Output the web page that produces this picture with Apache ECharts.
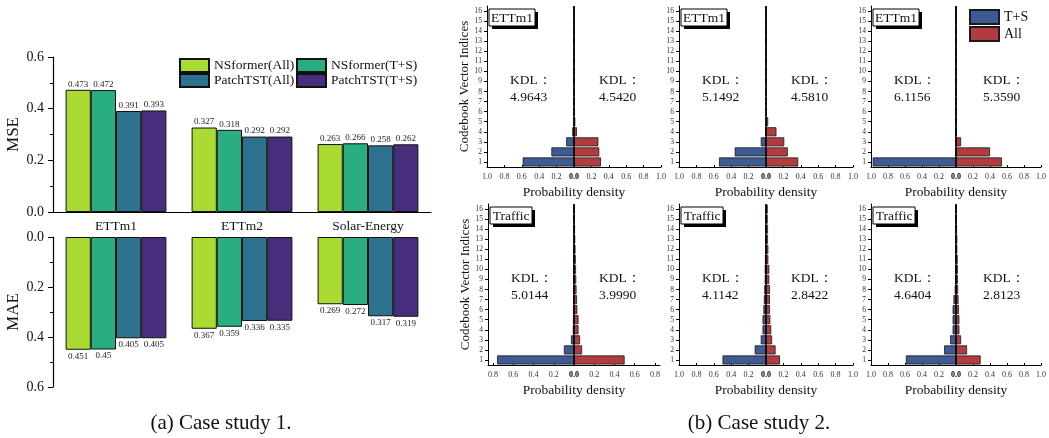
<!DOCTYPE html>
<html><head><meta charset="utf-8">
<script src="https://cdn.jsdelivr.net/npm/echarts@6/dist/echarts.min.js"></script>
<style>html,body{margin:0;padding:0;background:#fff}#c{width:1049px;height:438px}</style>
</head><body><div id="c"></div>
<script>
// ---------- Case study 1 data ----------
const categories = ['ETTm1', 'ETTm2', 'Solar-Energy'];
const seriesNames = ['NSformer(All)', 'NSformer(T+S)', 'PatchTST(All)', 'PatchTST(T+S)'];
const mseNsAll = [0.473, 0.327, 0.263];
const mseNsTS  = [0.472, 0.318, 0.266];
const msePtAll = [0.391, 0.292, 0.258];
const msePtTS  = [0.393, 0.292, 0.262];
const maeNsAll = [0.451, 0.367, 0.269];
const maeNsTS  = [0.45, 0.359, 0.272];
const maePtAll = [0.405, 0.336, 0.317];
const maePtTS  = [0.405, 0.335, 0.319];

// ---------- Case study 2 data ----------
const indices = ['1','2','3','4','5','6','7','8','9','10','11','12','13','14','15','16'];
const p1TS  = [0.59, 0.26, 0.09, 0.02, 0.006, 0.004, 0.002, 0, 0, 0, 0, 0, 0, 0, 0, 0];
const p1All = [0.31, 0.29, 0.28, 0.034, 0.015, 0.01, 0.004, 0.002, 0, 0, 0, 0, 0, 0, 0, 0];
const p2TS  = [0.54, 0.36, 0.06, 0.01, 0.004, 0, 0, 0, 0, 0, 0, 0, 0, 0, 0, 0];
const p2All = [0.37, 0.25, 0.21, 0.12, 0.025, 0.008, 0.005, 0.004, 0.003, 0, 0, 0, 0, 0, 0, 0];
const p3TS  = [0.98, 0.01, 0.005, 0.003, 0, 0, 0, 0, 0, 0, 0, 0, 0, 0, 0, 0];
const p3All = [0.54, 0.40, 0.06, 0.005, 0, 0, 0, 0, 0, 0, 0, 0, 0, 0, 0, 0];
const p4TS  = [0.76, 0.10, 0.03, 0.012, 0.01, 0.01, 0.009, 0.008, 0.008, 0.007, 0.006, 0.006, 0.005, 0.005, 0.004, 0.004];
const p4All = [0.50, 0.08, 0.06, 0.045, 0.045, 0.033, 0.03, 0.025, 0.022, 0.02, 0.018, 0.015, 0.012, 0.01, 0.008, 0.006];
const p5TS  = [0.50, 0.13, 0.06, 0.04, 0.04, 0.03, 0.025, 0.02, 0.015, 0.015, 0.012, 0.01, 0.01, 0.008, 0.007, 0.006];
const p5All = [0.16, 0.11, 0.07, 0.06, 0.05, 0.045, 0.045, 0.045, 0.038, 0.038, 0.027, 0.027, 0.023, 0.023, 0.02, 0.02];
const p6TS  = [0.59, 0.14, 0.07, 0.04, 0.04, 0.04, 0.03, 0.015, 0.01, 0.008, 0.008, 0.007, 0.006, 0.006, 0.005, 0.005];
const p6All = [0.29, 0.13, 0.06, 0.04, 0.04, 0.035, 0.03, 0.025, 0.022, 0.022, 0.02, 0.015, 0.015, 0.012, 0.01, 0.008];
const datasetNames = ['ETTm1', 'ETTm1', 'ETTm1', 'Traffic', 'Traffic', 'Traffic'];
const kdlTS  = ['4.9643', '5.1492', '6.1156', '5.0144', '4.1142', '4.6404'];
const kdlAll = ['4.5420', '4.5810', '5.3590', '3.9990', '2.8422', '2.8123'];
const ticks10 = [-1, -0.8, -0.6, -0.4, -0.2, 0, 0.2, 0.4, 0.6, 0.8, 1];
const ticks08 = [-0.8, -0.6, -0.4, -0.2, 0, 0.2, 0.4, 0.6, 0.8];

const FONT = '"Liberation Serif", "Times New Roman", serif';
const barColors = ['#a9db32', '#28ae80', '#2c728e', '#472d7b'];
const BLUE = '#3d5b92', RED = '#b23c3d';

const chart = echarts.init(document.getElementById('c'), null, {renderer: 'canvas'});

const grids = [], xAxes = [], yAxes = [], series = [], legends = [], graphics = [];

// ----- left panel -----
grids.push({left: 53, top: 57, width: 378, height: 155});
grids.push({left: 53, top: 237, width: 378, height: 150});
xAxes.push({type: 'category', gridIndex: 0, data: categories,
  axisLine: {lineStyle: {color: '#000', width: 1.2}}, axisTick: {show: false},
  axisLabel: {fontFamily: FONT, fontSize: 13.5, color: '#111', margin: 7}});
xAxes.push({type: 'category', gridIndex: 1, data: categories, position: 'top',
  axisLine: {show: false}, axisTick: {show: false}, axisLabel: {show: false}});
const leftY = (gi, name, inverse) => ({
  type: 'value', gridIndex: gi, min: 0, max: 0.6, interval: 0.2, inverse: inverse,
  name: name, nameLocation: 'middle', nameGap: 31,
  nameTextStyle: {fontFamily: FONT, fontSize: 17, color: '#111'},
  axisLine: {show: true, lineStyle: {color: '#000', width: 1.2}},
  axisTick: {show: true, inside: false, length: 5, lineStyle: {color: '#000'}},
  minorTick: {show: true, splitNumber: 2, length: 3, lineStyle: {color: '#000'}},
  splitLine: {show: false},
  axisLabel: {fontFamily: FONT, fontSize: 14, color: '#111', margin: 9,
    formatter: v => v.toFixed(1)}
});
yAxes.push(leftY(0, 'MSE', false));
yAxes.push(leftY(1, 'MAE', true));

const mseSets = [mseNsAll, mseNsTS, msePtAll, msePtTS];
const maeSets = [maeNsAll, maeNsTS, maePtAll, maePtTS];
seriesNames.forEach((n, i) => {
  series.push({type: 'bar', name: n, xAxisIndex: 0, yAxisIndex: 0, data: mseSets[i],
    barGap: '0%', barCategoryGap: '20%',
    itemStyle: {color: barColors[i], borderColor: '#111', borderWidth: 1},
    label: {show: true, position: 'top', distance: 1, fontFamily: FONT, fontSize: 9, color: '#222'}});
  series.push({type: 'bar', name: n, xAxisIndex: 1, yAxisIndex: 1, data: maeSets[i],
    barGap: '0%', barCategoryGap: '20%',
    itemStyle: {color: barColors[i], borderColor: '#111', borderWidth: 1},
    label: {show: true, position: 'bottom', distance: 2, fontFamily: FONT, fontSize: 9, color: '#222'}});
});
const legPos = [[179, 58], [296, 58], [179, 73], [296, 73]];
seriesNames.forEach((n, i) => {
  legends.push({data: [n], left: legPos[i][0], top: legPos[i][1], padding: 0,
    itemWidth: 29, itemHeight: 13, itemGap: 0, icon: 'rect', selectedMode: false,
    textStyle: {fontFamily: FONT, fontSize: 13.5, color: '#111'}});
});

// ----- right panels -----
const panels = [
  {x: 487, y: 6,   w: 174, min: -1,    max: 1,    ticks: ticks10, ts: p1TS, all: p1All, yName: true},
  {x: 679, y: 6,   w: 174, min: -1,    max: 1,    ticks: ticks10, ts: p2TS, all: p2All, yName: false},
  {x: 871, y: 6,   w: 174, min: -1,    max: 1,    ticks: ticks10, ts: p3TS, all: p3All, yName: false},
  {x: 488, y: 204, w: 172, min: -0.85, max: 0.85, ticks: ticks08, ts: p4TS, all: p4All, yName: true},
  {x: 679, y: 204, w: 174, min: -1,    max: 1,    ticks: ticks10, ts: p5TS, all: p5All, yName: false},
  {x: 871, y: 204, w: 174, min: -1,    max: 1,    ticks: ticks10, ts: p6TS, all: p6All, yName: false}
];
const PH = 161;
panels.forEach((p, k) => {
  const gi = grids.length;
  grids.push({left: p.x, top: p.y, width: p.w, height: PH});
  xAxes.push({type: 'value', gridIndex: gi, min: p.min, max: p.max,
    name: 'Probability density', nameLocation: 'middle', nameGap: 18,
    nameTextStyle: {fontFamily: FONT, fontSize: 13.5, color: '#111'},
    axisLine: {show: true, onZero: false, lineStyle: {color: '#000', width: 1}},
    axisTick: {show: true, inside: true, length: 2, customValues: p.ticks, lineStyle: {color: '#000'}},
    splitLine: {show: false},
    axisLabel: {fontFamily: FONT, fontSize: 8, color: '#333', margin: 6, customValues: p.ticks,
      showMinLabel: true, showMaxLabel: true,
      formatter: v => Math.abs(v) < 1e-9 ? '{b|0.0}' : Math.abs(v).toFixed(1),
      rich: {b: {fontFamily: FONT, fontSize: 8, fontWeight: 'bold', color: '#000'}}}});
  yAxes.push({type: 'category', gridIndex: gi, data: indices,
    name: p.yName ? 'Codebook Vector Indices' : '', nameLocation: 'middle', nameGap: 16,
    nameTextStyle: {fontFamily: FONT, fontSize: 13, color: '#111'},
    axisLine: {show: true, onZero: false, lineStyle: {color: '#000', width: 1}},
    axisTick: {show: true, inside: false, length: 3, alignWithLabel: true, lineStyle: {color: '#000'}},
    axisLabel: {fontFamily: FONT, fontSize: 7.5, color: '#333', margin: 5, interval: 0}});
  series.push({type: 'bar', name: 'T+S', xAxisIndex: gi, yAxisIndex: gi,
    data: p.ts.map(v => -v), barGap: '-100%', barCategoryGap: '10%',
    itemStyle: {color: BLUE, borderColor: '#1a1a1a', borderWidth: 0.8}});
  series.push({type: 'bar', name: 'All', xAxisIndex: gi, yAxisIndex: gi,
    data: p.all, barGap: '-100%', barCategoryGap: '10%',
    itemStyle: {color: RED, borderColor: '#1a1a1a', borderWidth: 0.8},
    markLine: {silent: true, symbol: ['none', 'none'], label: {show: false},
      lineStyle: {color: '#000', width: 1.5, type: 'solid'}, data: [{xAxis: 0}]}});
  // dataset box with shadow
  const name = datasetNames[k];
  const bw = name === 'Traffic' ? 42 : 46, bh = 17;
  const bx = p.x + 2, by = p.y + 3;
  graphics.push({type: 'rect', shape: {x: bx + 3, y: by + 3, width: bw, height: bh}, style: {fill: '#000'}, z: 100});
  graphics.push({type: 'rect', shape: {x: bx, y: by, width: bw, height: bh}, style: {fill: '#fff', stroke: '#000', lineWidth: 1}, z: 101});
  graphics.push({type: 'text', x: bx + bw / 2, y: by + bh / 2 + 0.5, z: 102,
    style: {text: name, font: '13.5px ' + FONT, fill: '#111', textAlign: 'center', textVerticalAlign: 'middle', align: 'center', verticalAlign: 'middle'}});
  // KDL texts
  const zeroX = p.x + p.w * (0 - p.min) / (p.max - p.min);
  const lx = p.x + 23, rx = zeroX + 25;
  [[lx, kdlTS[k]], [rx, kdlAll[k]]].forEach(([tx, val]) => {
    graphics.push({type: 'text', x: tx, y: p.y + 74, z: 102,
      style: {text: 'KDL：', font: '13.5px ' + FONT, fill: '#111', textAlign: 'left', textVerticalAlign: 'middle', align: 'left', verticalAlign: 'middle'}});
    graphics.push({type: 'text', x: tx, y: p.y + 91, z: 102,
      style: {text: val, font: '13.5px ' + FONT, fill: '#111', textAlign: 'left', textVerticalAlign: 'middle', align: 'left', verticalAlign: 'middle'}});
  });
});
legends.push({data: ['T+S', 'All'], orient: 'vertical', left: 969, top: 9, padding: 0,
  itemWidth: 29, itemHeight: 14, itemGap: 1, icon: 'rect', selectedMode: false,
  textStyle: {fontFamily: FONT, fontSize: 14, color: '#111'}});

// captions
graphics.push({type: 'text', x: 221, y: 423, style: {text: '(a) Case study 1.', font: '21px ' + FONT, fill: '#111', textAlign: 'center', textVerticalAlign: 'middle', align: 'center', verticalAlign: 'middle'}});
graphics.push({type: 'text', x: 759, y: 423, style: {text: '(b) Case study 2.', font: '21px ' + FONT, fill: '#111', textAlign: 'center', textVerticalAlign: 'middle', align: 'center', verticalAlign: 'middle'}});

chart.setOption({
  animation: false,
  backgroundColor: '#fff',
  grid: grids, xAxis: xAxes, yAxis: yAxes, series: series, legend: legends,
  graphic: {elements: graphics}
});
</script></body></html>
